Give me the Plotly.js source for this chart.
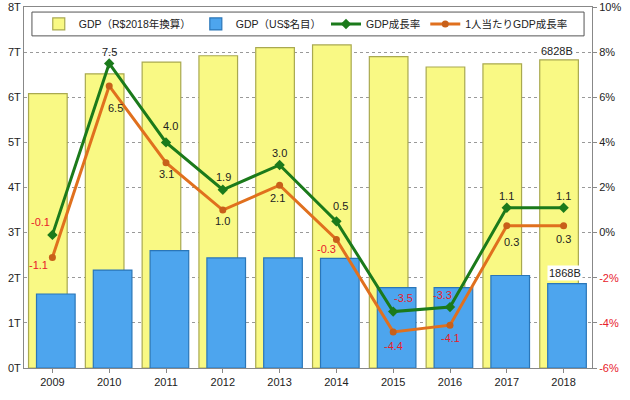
<!DOCTYPE html>
<html><head><meta charset="utf-8">
<script src="https://cdn.plot.ly/plotly-3.0.1.min.js"></script>
<style>html,body{margin:0;padding:0;background:#fff}#chart{width:630px;height:400px}</style>
</head><body><div id="chart"></div>
<script>
const years = ['2009','2010','2011','2012','2013','2014','2015','2016','2017','2018'];
const gdpReal = [6.08, 6.52, 6.78, 6.92, 7.10, 7.16, 6.90, 6.67, 6.74, 6.828];   // trillion R$ (2018 prices)
const gdpUsd  = [1.64, 2.17, 2.60, 2.44, 2.44, 2.43, 1.78, 1.78, 2.05, 1.868];   // trillion US$
const gdpGrowth = [-0.1, 7.5, 4.0, 1.9, 3.0, 0.5, -3.5, -3.3, 1.1, 1.1];
const pcGrowth  = [-1.1, 6.5, 3.1, 1.0, 2.1, -0.3, -4.4, -4.1, 0.3, 0.3];
const leftTicks = [0,1,2,3,4,5,6,7,8];
const rightTicks = [-6,-4,-2,0,2,4,6,8,10];

const FONT = 'Liberation Sans, Arial, Noto Sans CJK JP, sans-serif';
const red = '#E8202A';
const fmt = v => v.toFixed(1);

// label offsets (pixels) relative to each marker
const gShift = [[-12,13],[0,11],[4,16],[1,13],[0,12],[4,15],[10,14],[-8,12],[0,12],[0,12]];
const oShift = [[-14,-8],[6,-22],[0,-11],[0,-11],[-2,-13],[-10,-10],[0,-14],[0,-13],[5,-16],[0,-13]];

const traces = [
  {type:'bar', name:'GDP（R$2018年換算）', x:years, y:gdpReal, width:0.68, offset:-0.42,
   marker:{color:'#F9F984', line:{color:'#A9A950', width:1.2}}},
  {type:'bar', name:'GDP（US$名目）', x:years, y:gdpUsd, width:0.68, offset:-0.28,
   marker:{color:'#4DA5EE', line:{color:'#2A76B8', width:1.2}}},
  {type:'scatter', mode:'lines+markers', name:'GDP成長率', x:years, y:gdpGrowth, yaxis:'y2',
   line:{color:'#1B7A1B', width:3}, marker:{symbol:'diamond', size:8, color:'#1B7A1B'}},
  {type:'scatter', mode:'lines+markers', name:'1人当たりGDP成長率', x:years, y:pcGrowth, yaxis:'y2',
   line:{color:'#E0701E', width:3}, marker:{symbol:'circle', size:7, color:'#C8601A'}}
];

const ann = [];
years.forEach((yr,i) => {
  ann.push({x:i, y:gdpGrowth[i], xref:'x', yref:'y2', text:fmt(gdpGrowth[i]), showarrow:false,
            xshift:gShift[i][0], yshift:gShift[i][1], font:{size:11, color: gdpGrowth[i]<0 ? red : '#222'}});
  ann.push({x:i, y:pcGrowth[i], xref:'x', yref:'y2', text:fmt(pcGrowth[i]), showarrow:false,
            xshift:oShift[i][0], yshift:oShift[i][1], font:{size:11, color: pcGrowth[i]<0 ? red : '#222'}});
});
const last = years.length - 1;
ann.push({x:last, y:gdpReal[last], xref:'x', yref:'y', text:Math.round(gdpReal[last]*1000)+'B', showarrow:false,
          yanchor:'bottom', xshift:-7, yshift:1, bgcolor:'#fff', font:{size:11}});
ann.push({x:last, y:gdpUsd[last], xref:'x', yref:'y', text:Math.round(gdpUsd[last]*1000)+'B', showarrow:false,
          yanchor:'bottom', xshift:1, yshift:3, bgcolor:'#fff', font:{size:11}});

const layout = {
  width:630, height:400,
  margin:{l:24, r:38, t:7, b:32},
  paper_bgcolor:'#fff', plot_bgcolor:'#fff',
  font:{family:FONT, size:11, color:'#222'},
  barmode:'overlay', showlegend:true,
  xaxis:{type:'category', categoryorder:'array', categoryarray:years, range:[-0.5, years.length-0.5], autorange:false,
         showline:true, linecolor:'#888', mirror:true, ticks:'outside', ticklen:4, tickcolor:'#888',
         showgrid:false, tickfont:{size:11}},
  yaxis:{range:[0,8], autorange:false, tickvals:leftTicks, ticktext:leftTicks.map(v=>v+'T'), showgrid:true,
         gridcolor:'#999', griddash:'dot', zeroline:false, showline:true, linecolor:'#888', tickfont:{size:11}},
  yaxis2:{range:[-6,10], autorange:false, overlaying:'y', side:'right', tickvals:rightTicks,
          ticktext:rightTicks.map(v => v<0 ? '<span style="color:'+red+'">'+v+'%</span>' : v+'%'),
          showgrid:false, zeroline:false, showline:true, linecolor:'#888', ticks:'outside', ticklen:4, tickcolor:'#888', tickfont:{size:11}},
  legend:{orientation:'h', x:0.026, y:0.953, xanchor:'left', yanchor:'middle', bgcolor:'rgba(0,0,0,0)',
          borderwidth:0, itemwidth:30, font:{size:10.5}, traceorder:'normal'},
  shapes:[{type:'rect', xref:'paper', yref:'paper', x0:0.014, x1:0.986, y0:0.920, y1:0.986,
           fillcolor:'#fff', line:{color:'#555', width:1}, layer:'above'}],
  annotations:ann
};
Plotly.newPlot('chart', traces, layout, {displayModeBar:false, staticPlot:true});
</script></body></html>
